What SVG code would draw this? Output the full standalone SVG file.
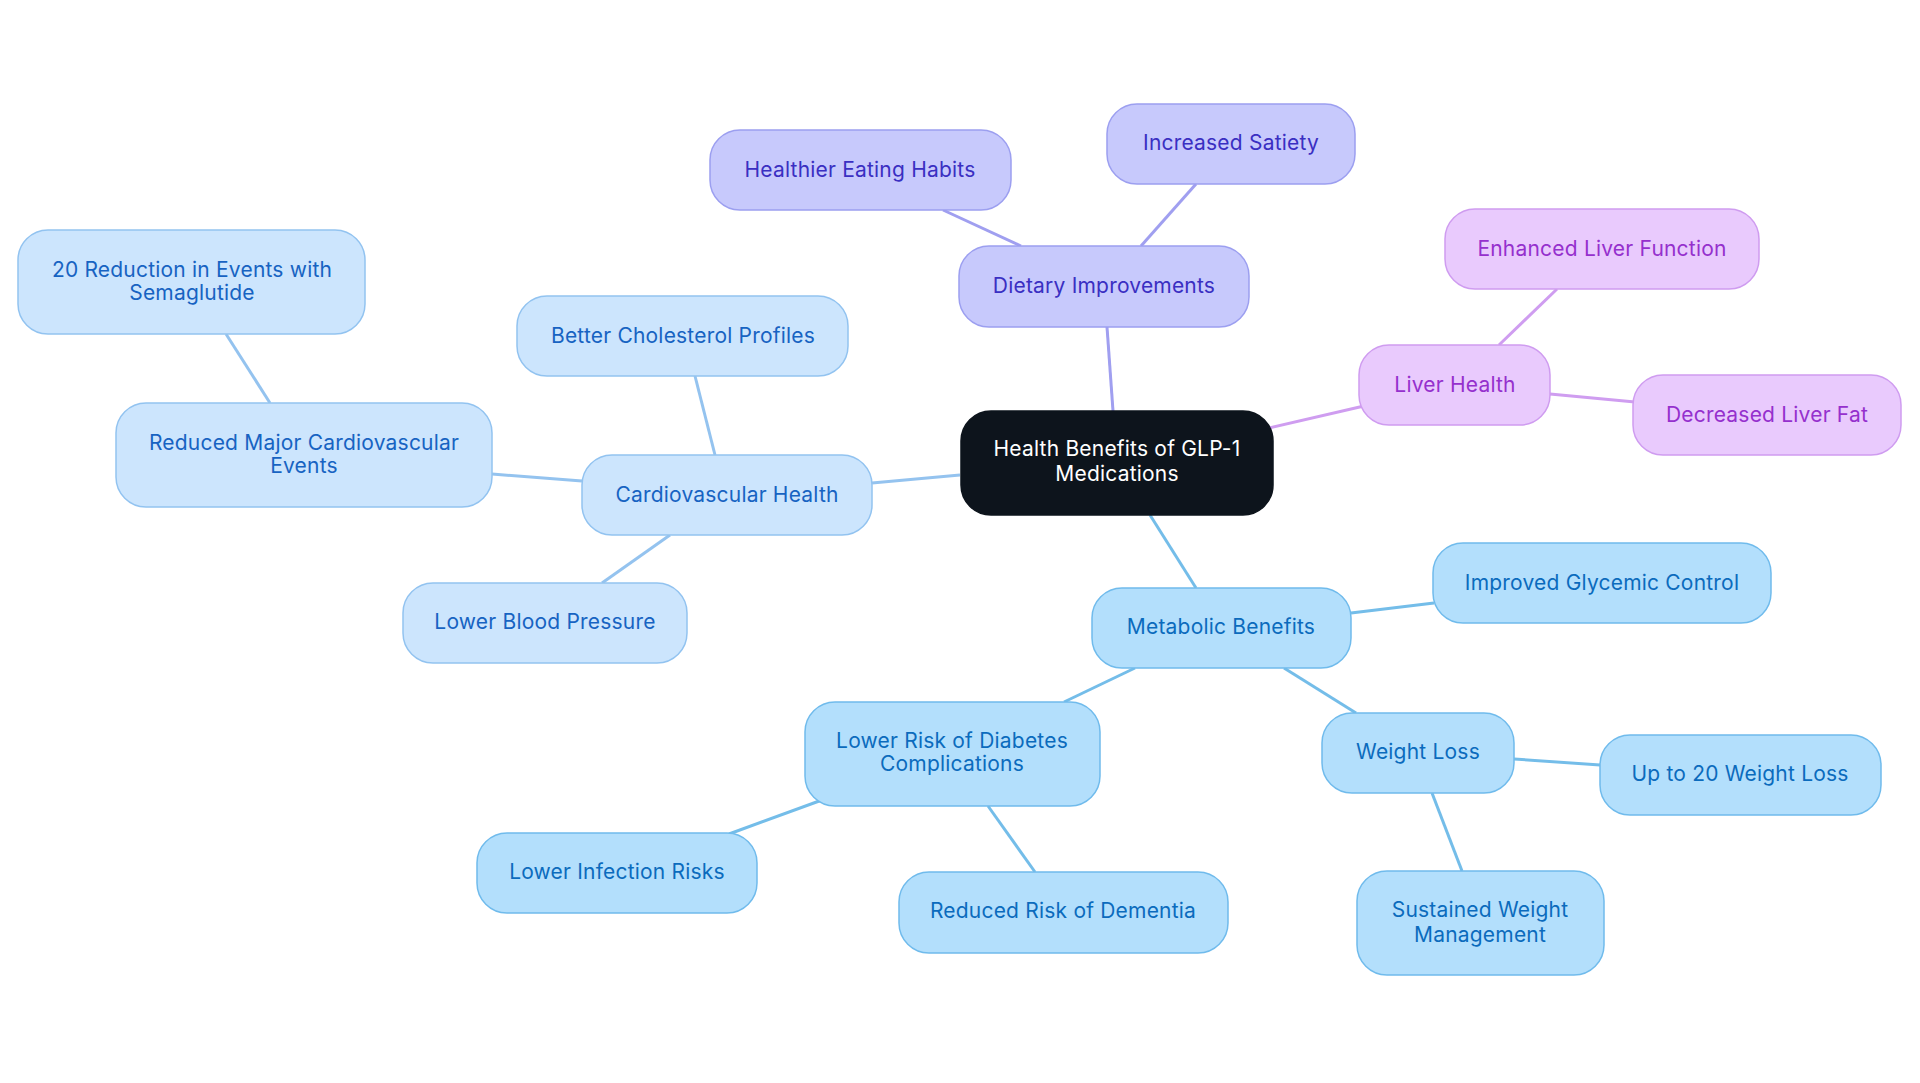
<svg xmlns="http://www.w3.org/2000/svg" width="1920" height="1083" viewBox="0 0 1920 1083">
<style>
text{font-family:Inter,"Noto Sans","Liberation Sans",sans-serif;font-size:21px;text-anchor:middle;letter-spacing:0.2px}
.root rect{fill:#0d141c;stroke:#0d141c;stroke-width:1.5}
.root text{fill:#ffffff}
.card rect{fill:#cce5fd;stroke:#92c3f0;stroke-width:1.5}
.card text{fill:#1763c2}
.meta rect{fill:#b3dffc;stroke:#70bbec;stroke-width:1.5}
.meta text{fill:#0b6bbd}
.diet rect{fill:#c7c9fc;stroke:#9c9ff0;stroke-width:1.5}
.diet text{fill:#3a2fc2}
.liver rect{fill:#e9cafd;stroke:#cf9cf0;stroke-width:1.5}
.liver text{fill:#9530cd}
#connectors line{stroke-width:3;fill:none}
.c-card{stroke:#94c3ef}
.c-meta{stroke:#74bde9}
.c-diet{stroke:#a09ff0}
.c-liver{stroke:#cf9df0}
</style>
<rect width="1920" height="1083" fill="#ffffff"/>
<g id="connectors">
<line class="c-card" x1="960" y1="475" x2="872" y2="483"/>
<line class="c-card" x1="715" y1="455" x2="695" y2="376"/>
<line class="c-card" x1="582" y1="481" x2="492" y2="474"/>
<line class="c-card" x1="270" y1="403" x2="226" y2="334"/>
<line class="c-card" x1="670" y1="535" x2="602" y2="583"/>
<line class="c-diet" x1="1113" y1="411" x2="1107" y2="327"/>
<line class="c-diet" x1="1021" y1="246" x2="943" y2="210"/>
<line class="c-diet" x1="1141" y1="246" x2="1196" y2="184"/>
<line class="c-liver" x1="1269" y1="428" x2="1364" y2="406"/>
<line class="c-liver" x1="1499" y1="345" x2="1557" y2="289"/>
<line class="c-liver" x1="1550" y1="394" x2="1635" y2="402"/>
<line class="c-meta" x1="1150" y1="515" x2="1196" y2="588"/>
<line class="c-meta" x1="1351" y1="613" x2="1434" y2="603"/>
<line class="c-meta" x1="1284" y1="668" x2="1356" y2="713"/>
<line class="c-meta" x1="1514" y1="759" x2="1600" y2="765"/>
<line class="c-meta" x1="1432" y1="793" x2="1462" y2="871"/>
<line class="c-meta" x1="1135" y1="668" x2="1064" y2="702"/>
<line class="c-meta" x1="822" y1="800" x2="729" y2="834"/>
<line class="c-meta" x1="988" y1="806" x2="1035" y2="872"/>
</g>
<g id="root" class="root"><rect x="961" y="411" width="312" height="104" rx="30"/><text x="1117" y="456">Health Benefits of GLP-1</text><text x="1117" y="481">Medications</text></g>
<g id="cardiovascular-health" class="card"><rect x="582" y="455" width="290" height="80" rx="30"/><text x="727" y="502">Cardiovascular Health</text></g>
<g id="better-cholesterol" class="card"><rect x="517" y="296" width="331" height="80" rx="30"/><text x="683" y="343">Better Cholesterol Profiles</text></g>
<g id="reduced-major-cv" class="card"><rect x="116" y="403" width="376" height="104" rx="30"/><text x="304" y="450">Reduced Major Cardiovascular</text><text x="304" y="473">Events</text></g>
<g id="reduction-semaglutide" class="card"><rect x="18" y="230" width="347" height="104" rx="30"/><text x="192" y="277">20 Reduction in Events with</text><text x="192" y="300">Semaglutide</text></g>
<g id="lower-blood-pressure" class="card"><rect x="403" y="583" width="284" height="80" rx="30"/><text x="545" y="629">Lower Blood Pressure</text></g>
<g id="dietary-improvements" class="diet"><rect x="959" y="246" width="290" height="81" rx="30"/><text x="1104" y="293">Dietary Improvements</text></g>
<g id="healthier-eating" class="diet"><rect x="710" y="130" width="301" height="80" rx="30"/><text x="860" y="177">Healthier Eating Habits</text></g>
<g id="increased-satiety" class="diet"><rect x="1107" y="104" width="248" height="80" rx="30"/><text x="1231" y="150">Increased Satiety</text></g>
<g id="liver-health" class="liver"><rect x="1359" y="345" width="191" height="80" rx="30"/><text x="1455" y="392">Liver Health</text></g>
<g id="enhanced-liver" class="liver"><rect x="1445" y="209" width="314" height="80" rx="30"/><text x="1602" y="256">Enhanced Liver Function</text></g>
<g id="decreased-liver-fat" class="liver"><rect x="1633" y="375" width="268" height="80" rx="30"/><text x="1767" y="422">Decreased Liver Fat</text></g>
<g id="metabolic-benefits" class="meta"><rect x="1092" y="588" width="259" height="80" rx="30"/><text x="1221" y="634">Metabolic Benefits</text></g>
<g id="glycemic-control" class="meta"><rect x="1433" y="543" width="338" height="80" rx="30"/><text x="1602" y="590">Improved Glycemic Control</text></g>
<g id="weight-loss" class="meta"><rect x="1322" y="713" width="192" height="80" rx="30"/><text x="1418" y="759">Weight Loss</text></g>
<g id="up-to-20" class="meta"><rect x="1600" y="735" width="281" height="80" rx="30"/><text x="1740" y="781">Up to 20 Weight Loss</text></g>
<g id="sustained-weight" class="meta"><rect x="1357" y="871" width="247" height="104" rx="30"/><text x="1480" y="917">Sustained Weight</text><text x="1480" y="942">Management</text></g>
<g id="diabetes-complications" class="meta"><rect x="805" y="702" width="295" height="104" rx="30"/><text x="952" y="748">Lower Risk of Diabetes</text><text x="952" y="771">Complications</text></g>
<g id="lower-infection" class="meta"><rect x="477" y="833" width="280" height="80" rx="30"/><text x="617" y="879">Lower Infection Risks</text></g>
<g id="dementia" class="meta"><rect x="899" y="872" width="329" height="81" rx="30"/><text x="1063" y="918">Reduced Risk of Dementia</text></g>
</svg>
